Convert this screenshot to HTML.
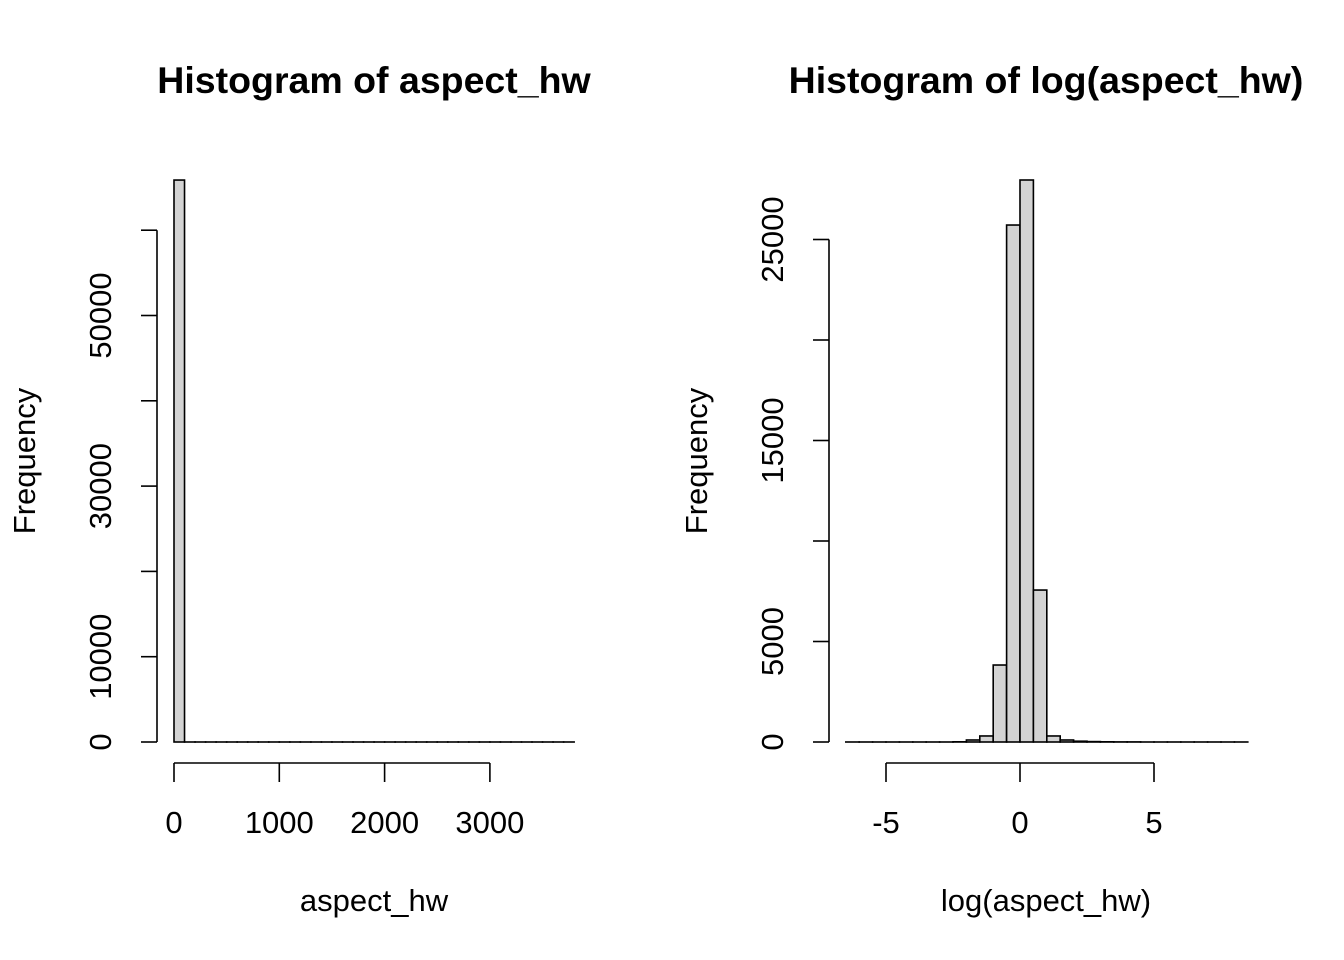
<!DOCTYPE html>
<html><head><meta charset="utf-8"><style>body{margin:0;background:#fff}svg{display:block}text{font-family:"Liberation Sans",Arial,sans-serif;fill:#000}</style></head>
<body>
<svg id="c" width="1344" height="960"></svg>
<script>
// Left histogram data
const leftBreaks = [];
for (let b = 0; b <= 3800; b += 100) leftBreaks.push(b);
const leftCounts = [65880].concat(new Array(37).fill(0));
const leftYTicks = [0, 10000, 20000, 30000, 40000, 50000, 60000];
const leftYLabelsAll = ["0","10000","30000","50000"];
const leftXTicks = [0, 1000, 2000, 3000];
// Right histogram data
const rightBreaks = [];
for (let i = 0; i <= 30; i++) rightBreaks.push(-6.5 + i * 0.5);
const rightCounts = [0,0,0,0,0,0,0,0,10,100,300,3830,25720,27960,7560,300,100,40,20,10,5,5,0,0,0,0,0,0,0,0];
const rightYTicks = [0, 5000, 10000, 15000, 20000, 25000];
const rightYLabelsAll = ["0","5000","15000","25000"];
const rightXTicks = [-5, 0, 5];

const svg = document.getElementById('c');
const NS = 'http://www.w3.org/2000/svg';
function el(tag, attrs, parent) {
  const e = document.createElementNS(NS, tag);
  for (const k in attrs) e.setAttribute(k, attrs[k]);
  (parent || svg).appendChild(e);
  return e;
}
function panel(o) {
  const g = el('g', {});
  
  
  const X = v => o.x0 + (v - o.xv0) * o.xs;
  const Y = v => o.y0 - v * o.ys;
  for (let i = 0; i < o.counts.length; i++) {
    const h = Math.max(o.counts[i] * o.ys, 0.01);
    const r = el('rect', {x: X(o.breaks[i]), y: o.y0 - h, width: X(o.breaks[i+1]) - X(o.breaks[i]), height: h, fill: '#d3d3d3', stroke: '#000', 'stroke-width': 1.6}, g);
    
    
  }
  const yTop = Y(o.yticks[o.yticks.length-1]);
  el('line', {x1: o.yax, x2: o.yax, y1: Y(0), y2: yTop, stroke: '#000', 'stroke-width': 1.6}, g);
  o.yticks.forEach(t => {
    el('line', {x1: o.yax - 16, x2: o.yax, y1: Y(t), y2: Y(t), stroke: '#000', 'stroke-width': 1.6}, g);
    const lab = String(t);
    if (o.ylabels.includes(lab)) {
      const tx = el('text', {x: 0, y: 0, 'font-size': 31, 'text-anchor': 'middle', transform: `translate(${o.yax-46},${Y(t)}) rotate(-90)`}, g);
      
      
      tx.textContent = lab;
    }
  });
  const xt = o.xticks;
  el('line', {x1: X(xt[0]), x2: X(xt[xt.length-1]), y1: 763, y2: 763, stroke: '#000', 'stroke-width': 1.6}, g);
  xt.forEach(t => {
    el('line', {x1: X(t), x2: X(t), y1: 763, y2: 782, stroke: '#000', 'stroke-width': 1.6}, g);
    const tx = el('text', {x: X(t), y: 833, 'font-size': 31, 'text-anchor': 'middle'}, g);
    
    
    tx.textContent = t;
  });
  const title = el('text', {x: o.tx, y: 93, 'font-size': 37.5, 'font-weight': 'bold', 'text-anchor': 'middle'}, g);
  
  
  title.textContent = o.title;
  const xl = el('text', {x: o.tx, y: 911, 'font-size': 31, 'text-anchor': 'middle'}, g);
  
  
  xl.textContent = o.xlab;
  const yl = el('text', {x: 0, y: 0, 'font-size': 31, 'text-anchor': 'middle', transform: `translate(${o.ylx},461) rotate(-90)`}, g);
  
  
  yl.textContent = 'Frequency';
}
panel({name: 'histogram-aspect-hw', breaks: leftBreaks, counts: leftCounts, x0: 174, xv0: 0, xs: 105.3/1000, y0: 742, ys: 85.3/10000,
  yticks: leftYTicks, ylabels: leftYLabelsAll, xticks: leftXTicks, yax: 157, title: 'Histogram of aspect_hw', xlab: 'aspect_hw', tx: 374, ylx: 35});
panel({name: 'histogram-log-aspect-hw', breaks: rightBreaks, counts: rightCounts, x0: 1020, xv0: 0, xs: 26.8, y0: 742, ys: 100.5/5000,
  yticks: rightYTicks, ylabels: rightYLabelsAll, xticks: rightXTicks, yax: 829, title: 'Histogram of log(aspect_hw)', xlab: 'log(aspect_hw)', tx: 1046, ylx: 707});
</script>
</body></html>
